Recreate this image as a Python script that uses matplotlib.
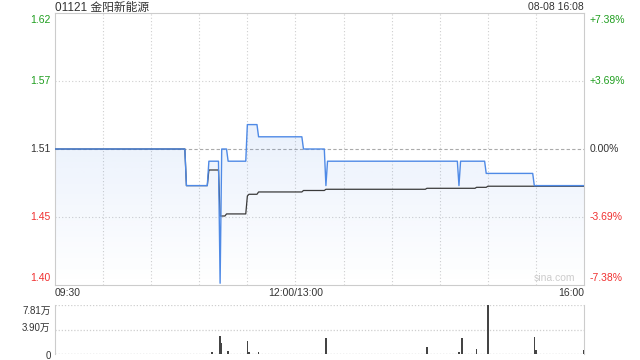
import matplotlib
matplotlib.use("Agg")
import matplotlib.pyplot as plt
import numpy as np

plt.rcParams['font.family'] = ['Liberation Sans', 'Noto Sans CJK SC', 'DejaVu Sans']

# ---- data (minute index 0..330, 150 = 12:00/13:00) ----
title = "01121 金阳新能源"
stamp = "08-08 16:08"
prev_close = 1.51

# price: minute where a level starts, and the level
price_start = [0, 82, 96, 103, 104, 108, 120, 127, 155, 169, 170, 252, 253, 269, 299]
price_level = [1.51, 1.48, 1.50, 1.40, 1.51, 1.50, 1.53, 1.52, 1.51, 1.48, 1.50, 1.48, 1.50, 1.49, 1.48]

# average price line
avg_start = [0, 82, 96, 103, 107, 120, 121, 127, 155, 169, 232, 263, 270]
avg_level = [1.51, 1.48, 1.4928, 1.4551, 1.4568, 1.4715, 1.4729, 1.4748, 1.476, 1.477, 1.4778, 1.4786, 1.4795]

# volume bars
vol_min = [98, 103, 104, 108, 120, 121, 127, 169, 232, 252, 254, 263, 270, 299, 300, 330]
vol_val = [3700, 29000, 17900, 5300, 21100, 3700, 3700, 25900, 11600, 3700, 25900, 8400, 78100, 27400, 6900, 6900]

left_labels = ["1.62", "1.57", "1.51", "1.45", "1.40"]
right_labels = ["+7.38%", "+3.69%", "0.00%", "-3.69%", "-7.38%"]
pct = [0.0738, 0.0369, 0.0, -0.0369, -0.0738]
time_labels = ["09:30", "12:00/13:00", "16:00"]
vol_labels = ["7.81万", "3.90万", "0"]
vol_max = 78100

N = 331


def expand(starts, levels):
    out = np.zeros(N)
    bounds = list(starts) + [N]
    for k, lv in enumerate(levels):
        out[bounds[k]:bounds[k + 1]] = lv
    return out


minutes = np.arange(N)
price = expand(price_start, price_level)
avg = expand(avg_start, avg_level)

ymax = prev_close * (1 + pct[0])
ymin = prev_close * (1 + pct[-1])

GREEN = "#1f9e1f"
RED = "#f03030"
DARK = "#333333"
colors = [GREEN, GREEN, DARK, RED, RED]

fig = plt.figure(figsize=(6.4, 3.6), dpi=100)
ax = fig.add_axes([55 / 640, 75 / 360, 529 / 640, 272 / 360])
axv = fig.add_axes([55 / 640, 6 / 360, 529 / 640, 49 / 360])

# ---- main chart ----
ax.set_xlim(0, N - 1)
ax.set_ylim(ymin, ymax)
for x in range(30, 330, 30):
    ax.axvline(x, color="#cfcfcf", lw=0.8, ls=(0, (1, 2)), zorder=1)
for p in pct[1:-1]:
    v = prev_close * (1 + p)
    if p == 0:
        ax.axhline(v, color="#aaaaaa", lw=0.8, ls=(0, (3, 2)), zorder=1)
    else:
        ax.axhline(v, color="#cfcfcf", lw=0.8, ls=(0, (1, 2)), zorder=1)

poly = ax.fill_between(minutes, price, ymin, facecolor="none", edgecolor="none")
grad = np.zeros((256, 1, 4))
grad[:, 0, 0] = 74 / 255
grad[:, 0, 1] = 134 / 255
grad[:, 0, 2] = 232 / 255
grad[:, 0, 3] = np.linspace(0.0, 0.2, 256)
im = ax.imshow(grad, extent=[0, N - 1, ymin, ymax], aspect="auto", origin="lower", zorder=2)
im.set_clip_path(poly.get_paths()[0], transform=ax.transData)

ax.plot(minutes, avg, color="#3a3a3a", lw=0.9, zorder=3)
ax.plot(minutes, price, color="#4f8ae6", lw=1.0, zorder=4)

ax.set_xticks([])
ax.set_yticks([])
for s in ax.spines.values():
    s.set_color("#cccccc")
    s.set_linewidth(0.8)

off = 7 / 1221
for k, (lab, rl, p) in enumerate(zip(left_labels, right_labels, pct)):
    v = prev_close * (1 + p)
    if k == 0:
        v -= off
    elif k == len(pct) - 1:
        v += off
    ax.text(-0.008, v, lab, transform=ax.get_yaxis_transform(), ha="right", va="center",
            fontsize=7.5, color=colors[k])
    ax.text(1.011, v, rl, transform=ax.get_yaxis_transform(), ha="left", va="center",
            fontsize=7.5, color=colors[k])

ax.text(0.0, 1.019, title, transform=ax.transAxes, ha="left", va="center", fontsize=8.5, color=DARK)
ax.text(1.0, 1.021, stamp, transform=ax.transAxes, ha="right", va="center", fontsize=7.5, color=DARK)
ax.text(0, -0.03, time_labels[0], transform=ax.get_xaxis_transform(), ha="left", va="center",
        fontsize=7.5, color=DARK)
ax.text(150, -0.03, time_labels[1], transform=ax.get_xaxis_transform(), ha="center", va="center",
        fontsize=7.5, color=DARK)
ax.text(N - 1, -0.03, time_labels[2], transform=ax.get_xaxis_transform(), ha="right", va="center",
        fontsize=7.5, color=DARK)
ax.text(0.945, 0.025, "sina.com", transform=ax.transAxes, ha="center", va="center",
        fontsize=7.5, color="#cccccc")

# ---- volume ----
axv.set_xlim(0, N - 1)
axv.set_ylim(0, vol_max)
axv.bar(vol_min, vol_val, width=0.9, color="#444444", zorder=3)
axv.axhline(vol_max, color="#cfcfcf", lw=0.9, ls=(0, (1, 1.5)), zorder=1)
axv.axhline(vol_max / 2, color="#cfcfcf", lw=0.9, ls=(0, (1, 1.5)), zorder=1)
axv.axhline(0, color="#999999", lw=0.9, ls=(0, (1, 1.5)), zorder=1)
axv.set_xticks([])
axv.set_yticks([])
for name, s in axv.spines.items():
    if name in ("top", "bottom"):
        s.set_visible(False)
    else:
        s.set_color("#cccccc")
        s.set_linewidth(0.8)

axv.text(-0.008, 0.88, vol_labels[0], transform=axv.transAxes, ha="right", va="center",
         fontsize=7, color=DARK)
axv.text(-0.008, 0.53, vol_labels[1], transform=axv.transAxes, ha="right", va="center",
         fontsize=7, color=DARK)
axv.text(-0.008, -0.04, vol_labels[2], transform=axv.transAxes, ha="right", va="center",
         fontsize=7, color=DARK)

fig.savefig("out.png", dpi=100)
